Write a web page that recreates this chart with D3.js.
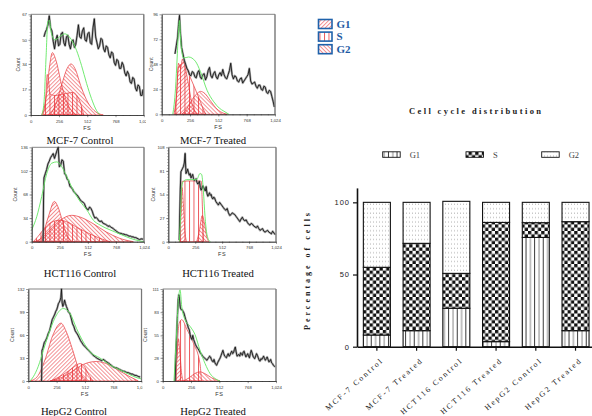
<!DOCTYPE html>
<html><head><meta charset="utf-8">
<script src="https://cdn.jsdelivr.net/npm/d3@7"></script>
<style>body{margin:0;background:#fff}svg{display:block}</style>
</head><body>
<svg id="c" width="592" height="416"></svg>
<script>
// ---------------- DATA ----------------
const samples = ["MCF-7 Control","MCF-7 Treated","HCT116 Control","HCT116 Treated","HepG2 Control","HepG2 Treated"];
const phases = ["G1","S","G2"];
const g1Pct = [8.1, 11.1, 26.6, 3.5, 75.7, 11.1];
const sPct  = [46.9, 60.5, 24.2, 82.6, 10.2, 75.5];
const g2Pct = [45.0, 28.4, 49.9, 13.9, 14.1, 13.4];
const pctTicks = [0, 50, 100];
const fsTicks = [0, 256, 512, 768, 1024];

// flow histograms: [FS channel, count]
const mcfCtrlTicks = [0,17,34,50,67];
const mcfCtrlTrace = [[120,52],[132,55],[144,57],[156,60],[168,66],[180,58],[192,56],[204,49],[216,44],[228,50],[240,53],[252,46],[264,47],[276,54],[288,55],[300,48],[312,46],[324,52],[336,53],[348,47],[360,44],[372,49],[384,50],[396,45],[408,47],[420,53],[432,60],[444,52],[456,51],[468,56],[480,58],[492,50],[504,49],[516,54],[528,55],[540,48],[552,47],[564,58],[576,64],[588,52],[600,48],[612,44],[624,46],[636,51],[648,50],[660,44],[672,42],[684,46],[696,45],[708,40],[720,38],[732,42],[744,41],[756,35],[768,33],[780,37],[792,36],[804,31],[816,31],[828,35],[840,33],[852,28],[864,26],[876,29],[888,27],[900,22],[912,21],[924,25],[936,24],[948,18],[960,16],[972,20],[984,19],[996,13],[1008,13],[1016,17]];
const mcfCtrlFit = [[100,0],[120,8],[140,40],[155,62],[169,63],[185,55],[220,50],[260,52],[310,54],[350,52],[415,43],[460,33],[506,21],[550,11],[596,3],[630,0]];
const mcfCtrlG1 = [[100,0],[140,12],[170,32],[196,41.5],[230,36],[280,20],[330,8],[380,2],[415,0]];
const mcfCtrlS  = [[110,0],[135,10],[150,27],[160,24],[175,14],[220,13],[300,14],[380,15],[440,10],[480,0]];
const mcfCtrlG2 = [[175,0],[220,6],[280,20],[330,31],[365,34],[400,31],[460,18],[520,8],[590,2],[657,0]];

const mcfTrtTicks = [0,24,48,72,96];
const mcfTrtTrace = [[120,58],[132,66],[144,74],[152,86],[161,95],[168,80],[180,64],[192,58],[204,52],[216,48],[228,44],[240,42],[252,38],[264,37],[276,41],[288,40],[300,36],[312,35],[324,40],[336,42],[348,36],[360,34],[372,38],[384,39],[396,33],[408,36],[420,42],[432,45],[444,37],[456,35],[468,39],[480,41],[492,36],[504,34],[516,38],[528,40],[540,37],[552,43],[564,38],[576,35],[588,34],[600,38],[612,42],[624,49],[636,38],[648,34],[660,37],[672,36],[684,32],[696,31],[708,34],[720,35],[732,30],[744,32],[756,34],[768,36],[780,38],[792,44],[804,32],[816,29],[828,30],[840,31],[852,27],[864,25],[876,28],[888,28],[900,24],[912,23],[924,27],[936,26],[948,21],[960,20],[972,23],[984,22],[996,17],[1008,12],[1018,7]];
const mcfTrtFit = [[100,0],[125,25],[140,55],[152,80],[161,90],[172,70],[198,54],[243,55],[304,51],[350,41],[410,23],[471,12],[520,6],[562,3],[608,0]];
const mcfTrtG1 = [[110,0],[135,20],[152,49],[170,44],[188,53],[210,46],[240,30],[270,12],[300,3],[320,0]];
const mcfTrtS  = [[120,0],[135,20],[150,45],[175,48],[200,50],[240,40],[300,25],[350,12],[380,4],[400,0]];
const mcfTrtG2 = [[182,0],[230,6],[280,15],[320,20],[350,22],[390,20],[440,13],[500,5],[560,1],[593,0]];

const hctCtrlTicks = [0,34,68,102,136];
const hctCtrlTrace = [[104,0],[108,60],[112,92],[124,98],[136,104],[148,112],[160,116],[172,121],[184,124],[196,127],[208,120],[220,126],[232,132],[242,136],[252,108],[264,110],[276,118],[288,116],[300,98],[312,96],[324,90],[336,88],[348,80],[360,78],[372,76],[384,72],[396,70],[408,68],[420,66],[432,63],[444,60],[456,58],[468,57],[480,55],[492,50],[504,47],[516,46],[528,50],[540,48],[552,44],[564,38],[576,34],[588,35],[600,33],[612,30],[624,29],[636,30],[648,27],[660,26],[672,25],[684,24],[696,22],[708,23],[720,21],[732,20],[744,19],[756,17],[768,16],[780,14],[792,13],[804,12],[816,12],[828,11],[840,11],[852,10],[864,10],[876,9],[888,8],[900,8],[912,7],[924,7],[936,6],[948,6],[960,5],[972,4],[984,3],[996,4],[1008,4],[1016,3]];
const hctCtrlFit = [[0,17],[46,36],[91,65],[137,98],[182,113],[228,115],[274,108],[319,94],[380,74],[441,58],[502,46],[562,31],[623,24],[714,17],[805,11],[897,5],[988,1],[1024,0]];
const hctCtrlG1 = [[46,0],[100,10],[150,35],[207,58],[240,50],[280,30],[320,10],[365,0]];
const hctCtrlS  = [[15,0],[60,8],[120,20],[180,28],[258,31],[330,28],[420,20],[520,12],[620,5],[714,0]];
const hctCtrlG2 = [[15,0],[80,4],[160,16],[260,31],[365,38],[450,35],[560,26],[680,14],[800,5],[927,0]];

const hctTrtTicks = [0,27,54,81,108];
const hctTrtTrace = [[104,2],[114,60],[120,80],[128,82],[136,84],[144,86],[152,90],[160,101],[168,78],[176,80],[184,83],[192,79],[200,76],[208,78],[216,73],[224,75],[232,77],[240,72],[248,70],[256,71],[264,72],[272,68],[280,66],[288,67],[296,69],[304,62],[312,59],[320,61],[328,64],[336,62],[344,60],[352,58],[360,63],[368,55],[376,52],[384,54],[392,56],[400,53],[408,54],[416,50],[424,49],[432,51],[440,50],[452,46],[464,44],[476,42],[488,45],[500,43],[512,41],[524,39],[536,37],[548,36],[560,38],[572,33],[584,30],[596,31],[608,33],[620,32],[632,31],[644,29],[656,27],[668,25],[680,23],[692,26],[704,28],[716,25],[728,24],[740,25],[752,22],[764,20],[776,19],[788,21],[800,20],[812,18],[824,17],[836,16],[848,18],[860,15],[872,13],[884,14],[896,15],[908,12],[920,11],[932,12],[944,13],[956,11],[968,10],[980,9],[992,12],[1004,10],[1016,8]];
const hctTrtFit = [[105,0],[120,40],[127,63],[143,69],[175,71],[270,71],[301,78],[317,77],[333,59],[349,29],[365,10],[390,1],[400,0]];
const hctTrtG1 = [[105,0],[118,30],[130,62],[145,40],[160,10],[175,0]];
const hctTrtS  = [[110,0],[122,40],[132,69],[200,69.5],[280,69.5],[314,69],[324,40],[335,0]];
const hctTrtG2 = [[270,0],[295,12],[323,30],[345,20],[365,6],[385,0]];

const hepCtrlTicks = [0,33,66,99,132];
const hepCtrlTrace = [[120,0],[124,44],[132,47],[144,55],[156,58],[168,62],[180,68],[192,72],[204,80],[216,88],[228,92],[240,96],[248,100],[256,102],[264,106],[272,111],[280,113],[288,116],[294,120],[300,132],[306,112],[312,107],[320,110],[328,116],[336,111],[344,107],[352,104],[360,100],[368,98],[376,97],[388,90],[400,82],[412,78],[424,72],[436,69],[448,66],[460,62],[472,58],[484,55],[496,52],[508,50],[520,48],[532,46],[544,44],[556,42],[568,40],[580,38],[592,36],[604,35],[616,33],[628,32],[640,31],[652,30],[664,29],[676,31],[688,30],[700,28],[712,27],[724,26],[736,24],[748,23],[760,21],[772,20],[784,19],[796,19],[808,18],[820,17],[832,16],[844,15],[856,14],[868,14],[880,13],[892,12],[904,12],[916,11],[928,10],[940,10],[952,9],[964,8],[976,8],[988,7],[1000,6],[1012,6]];
const hepCtrlFit = [[15,0],[45,6],[90,21],[136,44],[196,73],[256,95],[316,104],[377,97],[437,75],[497,56],[557,42],[648,33],[738,23],[828,16],[919,9],[994,4],[1024,3]];
const hepCtrlG1 = [[15,0],[80,6],[150,30],[220,65],[295,83],[340,72],[400,45],[460,15],[527,0]];
const hepCtrlS  = [[200,0],[280,6],[360,14],[420,21],[467,25],[510,20],[550,8],[587,0]];
const hepCtrlG2 = [[196,0],[300,5],[400,14],[500,24],[617,28],[720,24],[830,14],[920,6],[994,0]];

const hepTrtTicks = [0,28,55,83,111];
const hepTrtTrace = [[112,0],[118,30],[124,49],[132,75],[140,98],[145,104],[150,102],[156,92],[160,88],[168,86],[176,86],[184,84],[192,82],[200,78],[208,74],[216,71],[224,68],[232,64],[240,62],[248,56],[256,52],[264,50],[272,55],[280,50],[288,47],[296,44],[304,42],[312,40],[320,39],[328,37],[336,35],[344,33],[352,32],[360,30],[368,29],[376,28],[384,27],[392,26],[400,25],[408,27],[416,28],[424,30],[432,29],[440,26],[448,24],[456,23],[464,26],[472,22],[480,20],[488,19],[496,22],[504,24],[512,26],[520,28],[528,31],[536,34],[544,37],[552,33],[560,30],[568,29],[576,28],[584,31],[592,33],[600,30],[608,31],[616,34],[624,36],[632,33],[640,34],[648,38],[656,41],[664,35],[672,30],[680,31],[688,32],[696,30],[704,34],[712,33],[720,31],[728,35],[736,36],[744,32],[752,29],[760,31],[768,33],[776,30],[784,28],[792,33],[800,37],[808,34],[816,30],[824,28],[832,27],[840,30],[848,33],[856,31],[864,28],[872,25],[880,24],[888,27],[896,26],[904,28],[912,30],[920,27],[928,25],[936,27],[944,29],[952,26],[960,23],[968,24],[976,26],[984,22],[992,21],[1000,19],[1008,18],[1016,17]];
const hepTrtFit = [[102,0],[127,62],[142,98],[157,110],[172,90],[202,74],[247,66],[292,56],[337,37],[383,21],[428,9],[473,3],[518,0]];
const hepTrtG1 = [[110,0],[130,30],[142,51],[155,35],[170,10],[185,0]];
const hepTrtS  = [[120,0],[135,50],[150,70],[172,74],[220,62],[280,45],[337,21],[350,0]];
const hepTrtG2 = [[187,0],[240,4],[290,9],[337,11],[380,9],[440,4],[518,0]];

// ---------------- DRAWING ----------------
const svg = d3.select("#c");
const RED = "#e8353a", GREEN = "#62e862";
const defs = svg.append("defs");
function hatch(id, angle, gap, color, w){
  const p = defs.append("pattern").attr("id", id).attr("patternUnits","userSpaceOnUse")
    .attr("width", gap).attr("height", gap).attr("patternTransform", `rotate(${angle})`);
  p.append("line").attr("x1",0.5).attr("y1",0).attr("x2",0.5).attr("y2",gap)
    .attr("stroke", color).attr("stroke-width", w);
}
hatch("pG1", 45, 2.8, RED, 0.55);
hatch("pG2", -45, 2.8, RED, 0.55);
hatch("pS", 0, 4.5, RED, 0.8);
// bar chart patterns
{
  const p1 = defs.append("pattern").attr("id","bG1").attr("patternUnits","userSpaceOnUse").attr("width",8.6).attr("height",4);
  p1.append("rect").attr("width",8.6).attr("height",4).attr("fill","#fff");
  p1.append("rect").attr("x",1).attr("width",0.9).attr("height",4).attr("fill","#222");
  p1.append("rect").attr("x",5.3).attr("width",1).attr("height",4).attr("fill","#888");
  const p2 = defs.append("pattern").attr("id","bS").attr("patternUnits","userSpaceOnUse").attr("width",6.6).attr("height",6.6);
  p2.append("rect").attr("width",6.6).attr("height",6.6).attr("fill","#fff");
  p2.append("rect").attr("width",3.3).attr("height",3.3).attr("fill","#111");
  p2.append("rect").attr("x",3.3).attr("y",3.3).attr("width",3.3).attr("height",3.3).attr("fill","#111");
  const p3 = defs.append("pattern").attr("id","bG2").attr("patternUnits","userSpaceOnUse").attr("width",3).attr("height",4.4);
  p3.append("rect").attr("width",3).attr("height",4.4).attr("fill","#fff");
  p3.append("rect").attr("x",1).attr("y",1.5).attr("width",1).attr("height",0.8).attr("fill","#9a9a9a");
}

const panels = [
  {title:samples[0], ticks:mcfCtrlTicks, trace:mcfCtrlTrace, fit:mcfCtrlFit, g1:mcfCtrlG1, s:mcfCtrlS, g2:mcfCtrlG2,
   l:30.7, r:143.8, t:14.3, b:115, tx:80, ty:144.3, cx:20, clip:[0,146]},
  {title:samples[1], ticks:mcfTrtTicks, trace:mcfTrtTrace, fit:mcfTrtFit, g1:mcfTrtG1, s:mcfTrtS, g2:mcfTrtG2,
   l:161.7, r:275, t:14.3, b:114.3, tx:213, ty:144.3, cx:153.3, clip:[146,300]},
  {title:samples[2], ticks:hctCtrlTicks, trace:hctCtrlTrace, fit:hctCtrlFit, g1:hctCtrlG1, s:hctCtrlS, g2:hctCtrlG2,
   l:31.7, r:144, t:147.3, b:241.7, tx:80, ty:276.5, cx:16.5, clip:[0,152]},
  {title:samples[3], ticks:hctTrtTicks, trace:hctTrtTrace, fit:hctTrtFit, g1:hctTrtG1, s:hctTrtS, g2:hctTrtG2,
   l:168.3, r:276, t:147.3, b:241.7, tx:218, ty:276.5, cx:155, clip:[150,300]},
  {title:samples[4], ticks:hepCtrlTicks, trace:hepCtrlTrace, fit:hepCtrlFit, g1:hepCtrlG1, s:hepCtrlS, g2:hepCtrlG2,
   l:28.3, r:141.6, t:289, b:381, tx:74, ty:414.5, cx:13.5, clip:[0,142.5]},
  {title:samples[5], ticks:hepTrtTicks, trace:hepTrtTrace, fit:hepTrtFit, g1:hepTrtG1, s:hepTrtS, g2:hepTrtG2,
   l:162.7, r:276, t:289, b:381, tx:213, ty:414.5, cx:147, clip:[142.5,300]}
];

panels.forEach((p,i) => {
  const cid = "clip"+i;
  defs.append("clipPath").attr("id",cid).append("rect")
    .attr("x",p.clip[0]).attr("y",p.t-10).attr("width",p.clip[1]-p.clip[0]).attr("height",p.b-p.t+40);
  const g = svg.append("g").attr("clip-path",`url(#${cid})`);
  const x = d3.scaleLinear().domain([0,1024]).range([p.l,p.r]);
  const y = d3.scaleLinear().domain([0,p.ticks[p.ticks.length-1]]).range([p.b,p.t]);
  const area = d3.area().x(d=>x(d[0])).y0(y(0)).y1(d=>y(d[1])).curve(d3.curveMonotoneX);
  const line = d3.line().x(d=>x(d[0])).y(d=>y(d[1]));
  // components
  [["s","pS"],["g1","pG1"],["g2","pG2"]].forEach(([k,pat]) => {
    g.append("path").datum(p[k]).attr("d",area).attr("fill",`url(#${pat})`)
      .attr("stroke",RED).attr("stroke-width",0.7);
  });
  // noisy trace: grey underlay + black line
  g.append("path").datum(p.trace).attr("d",line).attr("fill","none")
    .attr("stroke","#8a8a8a").attr("stroke-width",2.2).attr("stroke-linejoin","round").attr("opacity",0.75);
  g.append("path").datum(p.trace).attr("d",line).attr("fill","none")
    .attr("stroke","#111").attr("stroke-width",0.85).attr("stroke-linejoin","miter");
  g.append("path").datum(p.fit).attr("d",line.curve(d3.curveMonotoneX)).attr("fill","none")
    .attr("stroke",GREEN).attr("stroke-width",0.9);
  // frame
  g.append("line").attr("x1",p.l).attr("x2",p.r).attr("y1",p.t).attr("y2",p.t).attr("stroke","#333").attr("stroke-width",0.6);
  g.append("line").attr("x1",p.r).attr("x2",p.r).attr("y1",p.t).attr("y2",p.b).attr("stroke","#777").attr("stroke-width",1.4);
  // axes
  g.append("g").attr("transform",`translate(${p.l},0)`)
    .call(d3.axisLeft(y).tickValues(p.ticks).tickSize(2.2).tickPadding(1.5).tickSizeOuter(0));
  const yMinor = d3.range(0, p.ticks[p.ticks.length-1], p.ticks[1]/8);
  g.append("g").attr("transform",`translate(${p.l},0)`)
    .call(d3.axisLeft(y).tickValues(yMinor).tickSize(1).tickFormat("").tickSizeOuter(0));
  g.append("g").attr("transform",`translate(0,${p.b})`)
    .call(d3.axisBottom(x).tickValues(fsTicks).tickSize(2.2).tickPadding(2.5).tickSizeOuter(0));
  g.append("g").attr("transform",`translate(0,${p.b})`)
    .call(d3.axisBottom(x).tickValues(d3.range(0,1024,64)).tickSize(1).tickFormat("").tickSizeOuter(0));
  g.selectAll(".domain").attr("stroke","#333").attr("stroke-width",0.7);
  g.selectAll(".tick line").attr("stroke","#333").attr("stroke-width",0.5);
  g.selectAll(".tick text").attr("font-family","Liberation Sans, Arial").attr("font-size",4.3).attr("fill","#333");
  g.append("text").attr("transform",`translate(${p.cx},${(p.t+p.b)/2}) rotate(-90)`)
    .attr("text-anchor","middle").attr("font-family","Liberation Sans, Arial").attr("font-size",5.2)
    .attr("fill","#333").text("Count");
  g.append("text").attr("x",(p.l+p.r)/2).attr("y",p.b+14.5).attr("text-anchor","middle")
    .attr("font-family","Liberation Sans, Arial").attr("font-size",5.5).attr("letter-spacing",0.6)
    .attr("fill","#333").text("FS");
  svg.append("text").attr("x",p.tx).attr("y",p.ty).attr("text-anchor","middle")
    .attr("font-family","Liberation Serif, Times New Roman").attr("font-size",10.7).attr("fill","#111").text(p.title);
});

// --- top legend (blue boxes) ---
const topLeg = svg.append("g");
const topPats = ["pG1","pS","pG2"];
phases.forEach((ph,i) => {
  const yy = 19.5 + i*12.6;
  topLeg.append("rect").attr("x",318.5).attr("y",yy).attr("width",13.5).attr("height",9).attr("fill","#fff");
  topLeg.append("rect").attr("x",318.5).attr("y",yy).attr("width",13.5).attr("height",9)
    .attr("fill",`url(#${topPats[i]})`).attr("stroke","#1f62ab").attr("stroke-width",1.6);
  topLeg.append("text").attr("x",336.5).attr("y",yy+8.3).attr("font-family","Liberation Serif, Times New Roman")
    .attr("font-weight","bold").attr("font-size",11).attr("fill","#1d5aa3").text(ph);
});

// --- stacked bar chart ---
const xb = d3.scaleBand().domain(samples).range([357,595.4]).paddingInner(0.32).paddingOuter(0.16);
const yb = d3.scaleLinear().domain([0,110]).range([346.7,187.9]);
const table = samples.map((s,i)=>({sample:s, G1:g1Pct[i], S:sPct[i], G2:g2Pct[i]}));
const stack = d3.stack().keys(phases)(table);
const barPats = {G1:"bG1", S:"bS", G2:"bG2"};
const bc = svg.append("g");
stack.forEach(layer => {
  bc.append("g").selectAll("rect").data(layer).join("rect")
    .attr("x", d=>xb(d.data.sample)).attr("width", xb.bandwidth())
    .attr("y", d=>yb(d[1])).attr("height", d=>yb(d[0])-yb(d[1]))
    .attr("fill", `url(#${barPats[layer.key]})`).attr("stroke","#111").attr("stroke-width",1.1);
});
const yAx = bc.append("g").attr("transform","translate(357,0)")
  .call(d3.axisLeft(yb).tickValues(pctTicks).tickSize(4).tickPadding(3).tickSizeOuter(0));
bc.append("g").attr("transform","translate(0,346.7)")
  .call(d3.axisBottom(xb).tickSize(4).tickSizeOuter(0).tickFormat(""));
bc.selectAll(".domain").attr("stroke","#111").attr("stroke-width",1.6);
bc.selectAll(".tick line").attr("stroke","#111").attr("stroke-width",1.2);
yAx.selectAll(".tick text").attr("font-family","Liberation Sans, Arial").attr("font-size",7.5)
  .attr("letter-spacing",1).attr("fill","#222");
bc.append("g").selectAll("text").data(samples).join("text")
  .attr("transform", d=>`translate(${xb(d)+xb.bandwidth()/2+7},${361}) rotate(-42)`)
  .attr("text-anchor","end").attr("font-family","Liberation Serif, Times New Roman")
  .attr("font-size",7.8).attr("letter-spacing",2).attr("fill","#1a1a1a").text(d=>d);
bc.append("text").attr("transform","translate(309.5,271.5) rotate(-90)")
  .attr("text-anchor","middle").attr("font-family","Liberation Serif, Times New Roman")
  .attr("font-weight","bold").attr("font-size",8).attr("textLength",117).attr("lengthAdjust","spacing")
  .attr("fill","#222").text("Percentage of cells");
bc.append("text").attr("x",475).attr("y",113.5).attr("text-anchor","middle")
  .attr("font-family","Liberation Serif, Times New Roman").attr("font-weight","bold").attr("font-size",8.5)
  .attr("textLength",132).attr("lengthAdjust","spacing").attr("fill","#222").text("Cell cycle distribution");
// legend
const legX = [382.7, 466, 541.7];
phases.forEach((ph,i) => {
  bc.append("rect").attr("x",legX[i]).attr("y",151.8).attr("width",17.5).attr("height",5.5)
    .attr("fill",`url(#${barPats[ph]})`).attr("stroke","#111").attr("stroke-width",0.9);
  bc.append("text").attr("x",legX[i]+27).attr("y",157.5).attr("font-family","Liberation Serif, Times New Roman")
    .attr("font-size",8.5).attr("fill","#444").text(ph);
});
</script>
</body></html>
